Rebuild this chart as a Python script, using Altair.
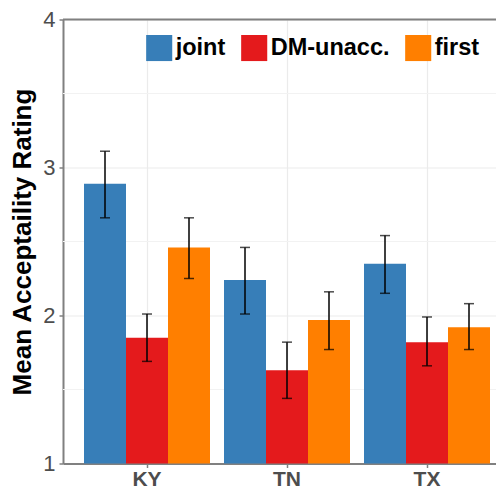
import altair as alt
import pandas as pd

states = ["KY", "TN", "TX"]
conditions = ["joint", "DM-unacc.", "first"]
colors = ["#377EB8", "#E41A1C", "#FF7F00"]

joint_mean = [2.89, 2.24, 2.35]
joint_lo = [2.66, 2.01, 2.15]
joint_hi = [3.11, 2.46, 2.54]

dm_mean = [1.85, 1.63, 1.82]
dm_lo = [1.69, 1.44, 1.66]
dm_hi = [2.01, 1.82, 1.99]

first_mean = [2.46, 1.97, 1.92]
first_lo = [2.25, 1.77, 1.77]
first_hi = [2.66, 2.16, 2.08]

y_major = [1, 2, 3, 4]
y_minor = [1.5, 2.5, 3.5]
y_top = [4]

rows = []
for cond, m, lo, hi in [
    ("joint", joint_mean, joint_lo, joint_hi),
    ("DM-unacc.", dm_mean, dm_lo, dm_hi),
    ("first", first_mean, first_lo, first_hi),
]:
    for s, mv, lv, hv in zip(states, m, lo, hi):
        rows.append({"state": s, "condition": cond, "mean": mv, "lo": lv, "hi": hv})
df = pd.DataFrame(rows)

FONT = "Liberation Sans"
AXIS_GRAY = "#808080"
GRID = "#EBEBEB"

yscale = alt.Scale(domain=[1, 4], zero=False, nice=False)

x_enc = alt.X(
    "state:N",
    sort=states,
    scale=alt.Scale(range=[0, 448], paddingInner=0.1, paddingOuter=0.15),
    axis=alt.Axis(
        title=None,
        labelFont=FONT,
        labelFontSize=21,
        labelFontWeight="bold",
        labelColor="#4D4D4D",
        labelPadding=1,
        labelAngle=0,
        tickSize=4,
        tickWidth=1.5,
        tickColor=AXIS_GRAY,
        domainColor=AXIS_GRAY,
        domainWidth=2,
        grid=True,
        gridColor=GRID,
        gridWidth=1.2,
        bandPosition=0.5,
    ),
)
xoff = alt.XOffset("condition:N", sort=conditions, scale=alt.Scale(paddingInner=0, paddingOuter=0))

y_axis = alt.Axis(
    title="Mean Acceptaility Rating",
    values=y_major,
    format="d",
    titleFont=FONT,
    titleFontSize=26,
    titleFontWeight="bold",
    titleColor="black",
    titlePadding=7,
    labelFont=FONT,
    labelFontSize=22,
    labelColor="#4D4D4D",
    labelPadding=4,
    tickSize=4,
    tickWidth=1.5,
    tickColor=AXIS_GRAY,
    domainColor=AXIS_GRAY,
    domainWidth=2,
    grid=True,
    gridColor=GRID,
    gridWidth=1.2,
)

minor = alt.Chart(pd.DataFrame({"v": y_minor})).mark_rule(color="#F2F2F2", strokeWidth=1).encode(
    y=alt.Y("v:Q", scale=yscale, axis=y_axis)
)

base = alt.Chart(df)

bars = base.mark_bar().encode(
    x=x_enc,
    xOffset=xoff,
    y=alt.Y("mean:Q", scale=yscale, axis=y_axis),
    y2=alt.datum(1),
    color=alt.Color(
        "condition:N",
        sort=conditions,
        scale=alt.Scale(domain=conditions, range=colors),
        legend=alt.Legend(
            orient="none",
            legendX=82.7,
            legendY=14.8,
            direction="horizontal",
            title=None,
            symbolType="square",
            symbolSize=680,
            symbolStrokeWidth=0,
            labelFont=FONT,
            labelFontSize=23.5,
            labelFontWeight="bold",
            labelColor="black",
            labelOffset=3,
            columnPadding=15,
            padding=0,
        ),
    ),
)

rules = base.mark_rule(color="black", strokeWidth=1.5).encode(
    x=x_enc, xOffset=xoff, y=alt.Y("lo:Q", scale=yscale), y2="hi:Q"
)
cap_lo = base.mark_tick(color="black", size=10, thickness=1.5).encode(
    x=x_enc, xOffset=xoff, y=alt.Y("lo:Q", scale=yscale)
)
cap_hi = base.mark_tick(color="black", size=10, thickness=1.5).encode(
    x=x_enc, xOffset=xoff, y=alt.Y("hi:Q", scale=yscale)
)

top = alt.Chart(pd.DataFrame({"v": y_top})).mark_rule(color=AXIS_GRAY, strokeWidth=2).encode(
    y=alt.Y("v:Q", scale=yscale)
)

chart = (
    alt.layer(minor, bars, rules, cap_lo, cap_hi, top)
    .properties(
        width=433,
        height=444,
        autosize=alt.AutoSizeParams(type="none"),
        padding={"left": 55, "top": 11.5, "right": 0, "bottom": 30.5},
    )
    .configure_view(stroke=None)
)

chart.save("out.html", embed_options={"renderer": "svg", "actions": False})
